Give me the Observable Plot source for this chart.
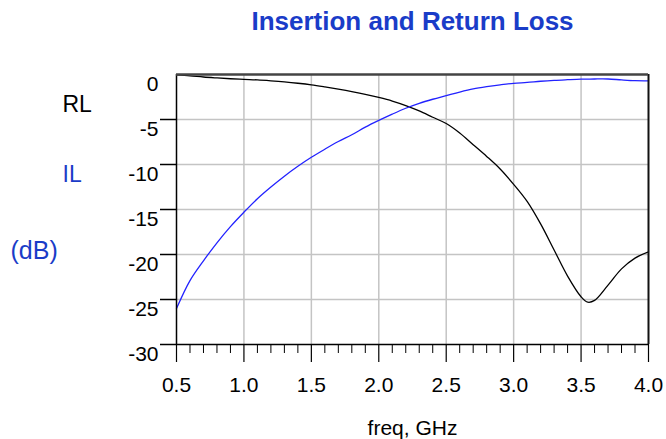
<!DOCTYPE html>
<html><head><meta charset="utf-8">
<script src="https://cdn.jsdelivr.net/npm/d3@7"></script>
<script src="https://cdn.jsdelivr.net/npm/@observablehq/plot@0.6"></script>
<style>body{margin:0;background:#fff}</style>
</head><body><div id="chart"></div>
<script>
const title = "Insertion and Return Loss";
const xAxisLabel = "freq, GHz";
const seriesLabels = ["RL", "IL", "(dB)"];

const freq = [0.5,0.6,0.7,0.8,0.9,1.0,1.1,1.2,1.3,1.4,1.5,1.6,1.7,1.8,1.9,2.0,2.1,2.2,2.3,2.4,2.5,2.6,2.7,2.8,2.9,3.0,3.1,3.2,3.3,3.4,3.5,3.55,3.6,3.7,3.8,3.9,4.0];
const rl = [-0.05,-0.15,-0.28,-0.38,-0.47,-0.54,-0.6,-0.7,-0.82,-0.97,-1.15,-1.38,-1.63,-1.9,-2.2,-2.55,-2.95,-3.45,-4.05,-4.75,-5.45,-6.5,-7.8,-9.1,-10.5,-12.2,-14.1,-16.6,-19.5,-22.4,-24.7,-25.3,-25.1,-23.4,-21.6,-20.4,-19.7];
const il = [-26.0,-22.9,-20.7,-18.7,-16.9,-15.3,-13.8,-12.5,-11.3,-10.2,-9.2,-8.3,-7.45,-6.7,-5.85,-5.1,-4.4,-3.75,-3.2,-2.75,-2.35,-1.95,-1.6,-1.35,-1.15,-0.98,-0.88,-0.75,-0.65,-0.58,-0.52,-0.51,-0.5,-0.5,-0.6,-0.68,-0.7];

const xTicks = [0.5,1.0,1.5,2.0,2.5,3.0,3.5,4.0];
const xMinor = [0.6,0.7,0.8,0.9,1.1,1.2,1.3,1.4,1.6,1.7,1.8,1.9,2.1,2.2,2.3,2.4,2.6,2.7,2.8,2.9,3.1,3.2,3.3,3.4,3.6,3.7,3.8,3.9];
const yTicks = [0,-5,-10,-15,-20,-25,-30];

const rows = freq.map((f, i) => ({f, rl: rl[i], il: il[i]}));
const font = "'Liberation Sans', Arial, sans-serif";
const blue = "#1a3cc8";

const chart = Plot.plot({
  width: 666, height: 439,
  marginLeft: 176, marginRight: 18, marginTop: 74, marginBottom: 95,
  style: {fontFamily: font, fontSize: "21px", color: "#000", background: "#fff"},
  x: {domain: [0.5, 4.0], label: null},
  y: {domain: [-30, 0], label: null},
  marks: [
    Plot.gridX(xTicks.slice(1, -1), {stroke: "#c4c4c4", strokeOpacity: 1, strokeWidth: 1.5}),
    Plot.gridY(yTicks.slice(1, -1), {stroke: "#c4c4c4", strokeOpacity: 1, strokeWidth: 1.5}),
    Plot.line(rows, {x: "f", y: "rl", stroke: "#000", strokeWidth: 1.3, curve: "catmull-rom"}),
    Plot.line(rows, {x: "f", y: "il", stroke: "#2222ff", strokeWidth: 1.3, curve: "catmull-rom"}),
    Plot.ruleX([0.5], {stroke: "#000", strokeWidth: 1.5}),
    Plot.ruleX([4.0], {stroke: "#111", strokeWidth: 2}),
    Plot.ruleY([0], {stroke: "#444", strokeWidth: 2.5}),
    Plot.ruleY([-30], {stroke: "#000", strokeWidth: 1.5}),
    Plot.axisY(yTicks.slice(1), {tickSize: 16, tickFormat: () => "", label: null, stroke: "#000", strokeWidth: 1.5}),
    Plot.axisY(yTicks, {tickSize: 0, tickPadding: 18, dy: 10, tickFormat: d => String(d), label: null, fontSize: 21, fill: "#000"}),
    Plot.axisX(xMinor, {tickSize: 9, tickFormat: () => "", label: null, stroke: "#000"}),
    Plot.axisX(xTicks, {tickSize: 18, tickFormat: () => "", label: null, stroke: "#000", strokeWidth: 1.2}),
    Plot.axisX(xTicks, {tickSize: 0, tickPadding: 33, tickFormat: d => d.toFixed(1), label: null, fontSize: 21, fill: "#000"}),
    Plot.text([title], {frameAnchor: "top", dy: -53, fontSize: 26, fontWeight: "bold", fill: blue, lineAnchor: "middle"}),
    Plot.text([xAxisLabel], {frameAnchor: "bottom", dy: 84, fontSize: 21, fill: "#000", lineAnchor: "middle"}),
    Plot.text([seriesLabels[0]], {frameAnchor: "top-left", dx: -114, dy: 30, fontSize: 23, fill: "#000", textAnchor: "start", lineAnchor: "middle"}),
    Plot.text([seriesLabels[1]], {frameAnchor: "top-left", dx: -114, dy: 100, fontSize: 23, fill: blue, textAnchor: "start", lineAnchor: "middle"}),
    Plot.text([seriesLabels[2]], {frameAnchor: "top-left", dx: -166, dy: 176, fontSize: 25, fill: blue, textAnchor: "start", lineAnchor: "middle"})
  ]
});
document.getElementById("chart").appendChild(chart);
</script>
</body></html>
